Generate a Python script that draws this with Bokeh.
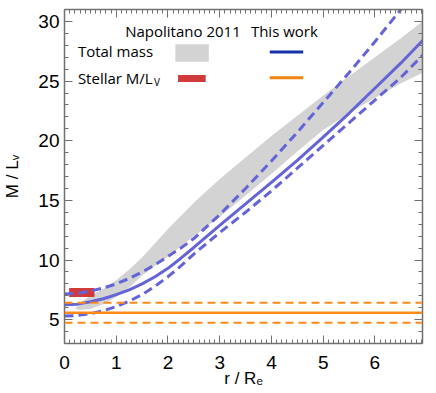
import numpy as np
from bokeh.plotting import figure
from bokeh.models import Range1d, FixedTicker, LinearAxis, Span, Label, CustomJSTickFormatter
from bokeh.embed import file_html
from bokeh.resources import INLINE

# ---------------- data ----------------
# This work: total M/L_V profile (solid) and its upper / lower envelope (dashed)
r_model = [0.0, 0.25, 0.5, 0.75, 1.0, 1.25, 1.5, 1.75, 2.0, 2.25, 2.5,
           3.0, 3.5, 4.0, 4.5, 5.0, 5.5, 6.0, 6.5, 7.0]
ml_model = [6.25, 6.3, 6.5, 6.75, 7.1, 7.5, 8.0, 8.6, 9.3, 10.15, 11.05,
            12.9, 14.7, 16.5, 18.35, 20.3, 22.3, 24.4, 26.5, 28.75]
ml_model_hi = [7.15, 7.2, 7.4, 7.65, 8.0, 8.45, 9.0, 9.6, 10.3, 11.0, 11.8,
               13.8, 16.0, 18.3, 20.7, 23.2, 25.7, 28.3, 31.0, 33.7]
ml_model_lo = [5.3, 5.35, 5.5, 5.75, 6.1, 6.55, 7.1, 7.8, 8.6, 9.5, 10.5,
               12.3, 14.0, 15.8, 17.7, 19.6, 21.5, 23.4, 25.3, 27.5]

# Napolitano 2011: total mass M/L_V band
r_nap = [0.22, 0.3, 0.5, 0.75, 1.0, 1.25, 1.5, 2.0, 2.5, 3.0, 3.5, 4.0,
         4.5, 5.0, 5.5, 6.0, 6.5, 6.92]
ml_nap_hi = [6.0, 6.4, 7.0, 7.6, 8.3, 9.2, 10.2, 12.6, 14.8, 16.8, 18.6, 20.4,
             22.1, 23.8, 25.4, 27.0, 28.6, 30.0]
ml_nap_lo = [5.9, 5.8, 5.9, 6.3, 6.9, 7.7, 8.7, 10.3, 12.0, 13.6, 15.4, 17.2,
             19.1, 20.9, 22.3, 23.6, 24.8, 25.7]

# Napolitano 2011: stellar M/L_V box (radial extent, value range)
nap_star_r = [0.09, 0.58]
nap_star_ml = [6.9, 7.65]

# This work: stellar M/L_V with error
star_ml = 5.57
star_ml_lo = 4.73
star_ml_hi = 6.41

x_major = [0, 1, 2, 3, 4, 5, 6]
y_major = [5, 10, 15, 20, 25, 30]

x_title = "r / R\u2091"
y_title = "M / L\u1d65"

# ---------------- styles ----------------
C_BAND = "#d3d3d3"
C_RED = "#d03a3a"
C_BLUE = "#6464d8"
C_BLUE_LEG = "#1432a8"
C_ORANGE = "#ff8a1a"
C_AXIS = "#707070"
TICK_FONT = "Liberation Sans"
LEG_FONT = "Open Sans"

p = figure(frame_width=358, frame_height=334,
           x_range=Range1d(0, 6.92), y_range=Range1d(3, 31),
           output_backend="svg", toolbar_location=None, title=None,
           min_border_left=63, min_border_right=15,
           min_border_top=9, min_border_bottom=50)
p.outline_line_color = None
p.grid.visible = False
p.background_fill_color = "white"
p.border_fill_color = "white"

xt = FixedTicker(ticks=x_major, minor_ticks=list(np.round(np.arange(0, 7.0, 0.1), 2)))
yt = FixedTicker(ticks=y_major, minor_ticks=list(range(3, 32)))

def style_axis(ax, labels=True):
    ax.axis_line_color = C_AXIS
    ax.axis_line_width = 1.5
    ax.major_tick_line_color = C_AXIS
    ax.minor_tick_line_color = C_AXIS
    ax.major_tick_in = 8
    ax.major_tick_out = 0
    ax.minor_tick_in = 4
    ax.minor_tick_out = 0
    ax.major_tick_line_width = 1
    ax.minor_tick_line_width = 1
    if labels:
        ax.major_label_text_font = TICK_FONT
        ax.major_label_text_font_size = "19px"
        ax.major_label_text_color = "black"
        ax.axis_label_text_font = TICK_FONT
        ax.axis_label_text_font_size = "17px"
        ax.axis_label_text_font_style = "normal"
        ax.axis_label_text_color = "black"
    else:
        ax.formatter = CustomJSTickFormatter(code="return ''")
        ax.major_label_standoff = 0

p.xaxis.ticker = xt
p.yaxis.ticker = yt
style_axis(p.xaxis[0])
style_axis(p.yaxis[0])
p.xaxis.major_label_standoff = 12
p.yaxis.major_label_standoff = 5
p.xaxis.axis_label = x_title
p.yaxis.axis_label = y_title
p.xaxis.axis_label_standoff = -3
p.yaxis.axis_label_standoff = 13

top = LinearAxis(ticker=xt)
right = LinearAxis(ticker=yt)
style_axis(top, labels=False)
style_axis(right, labels=False)
p.add_layout(top, "above")
p.add_layout(right, "right")

# Napolitano band
p.varea(x=r_nap, y1=ml_nap_lo, y2=ml_nap_hi, fill_color=C_BAND)
# Napolitano stellar box
p.quad(left=nap_star_r[0], right=nap_star_r[1], bottom=nap_star_ml[0], top=nap_star_ml[1],
       fill_color=C_RED, line_color=None)
# This work model
p.line(r_model, ml_model, line_color=C_BLUE, line_width=3)
p.line(r_model, ml_model_hi, line_color=C_BLUE, line_width=3, line_dash="9 5")
p.line(r_model, ml_model_lo, line_color=C_BLUE, line_width=3, line_dash="9 5")
# This work stellar M/L
p.add_layout(Span(location=star_ml, dimension="width", line_color=C_ORANGE, line_width=2.5))
p.add_layout(Span(location=star_ml_hi, dimension="width", line_color=C_ORANGE, line_width=2, line_dash="8 5"))
p.add_layout(Span(location=star_ml_lo, dimension="width", line_color=C_ORANGE, line_width=2, line_dash="8 5"))

# ---------------- legend (manual) ----------------
def lab(x, y, text, size="15px", align="left", baseline="middle", font=LEG_FONT):
    p.add_layout(Label(x=x, y=y, text=text, text_font=font, text_font_size=size,
                       text_align=align, text_baseline=baseline, text_color="black"))

lab(2.29, 29.19, "Napolitano 2011", align="center")
lab(4.25, 29.19, "This work", align="center")
lab(0.259, 27.51, "Total mass")
lab(0.259, 25.28, "Stellar M/L")
lab(1.73, 24.95, "V", size="10px")
p.quad(left=2.143, right=2.789, bottom=26.62, top=28.08, fill_color=C_BAND, line_color=None)
p.quad(left=2.195, right=2.729, bottom=24.92, top=25.51, fill_color=C_RED, line_color=None)
p.line([3.968, 4.614], [27.43, 27.43], line_color=C_BLUE_LEG, line_width=3)
p.line([3.968, 4.614], [25.28, 25.28], line_color="#f08410", line_width=3)

open("out.html", "w").write(file_html(p, INLINE))
